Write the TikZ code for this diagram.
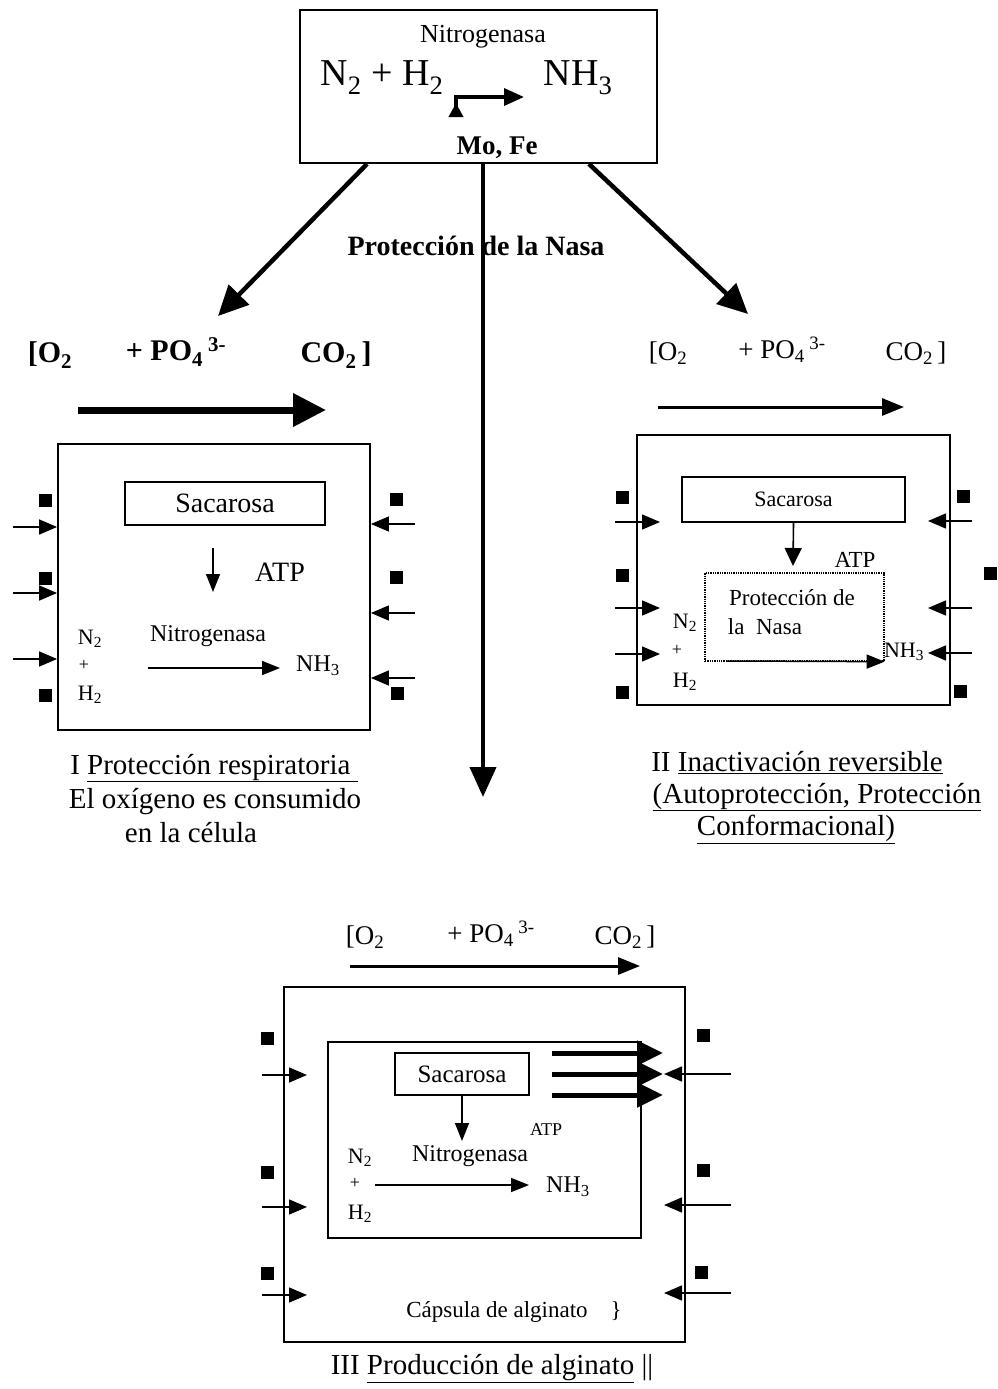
\documentclass[tikz,border=0pt]{standalone}
\usepackage{fontspec}
\setmainfont{Liberation Serif}
\usetikzlibrary{arrows.meta,calc}
\begin{document}
\begin{tikzpicture}[x=1pt,y=-1pt,
  tx/.style={inner sep=0pt, font=\fontsize{#1}{#1}\selectfont},
  bx/.style={inner sep=0pt, font=\bfseries\fontsize{#1}{#1}\selectfont},
  frame/.style={draw, line width=1.8pt, inner sep=0pt},
  sq/.style={fill=black, inner sep=0pt, minimum size=13pt},
  sarr/.style={-{Triangle[length=18pt,width=15pt]}, line width=1.5pt},
  iarr/.style={-{Triangle[length=18pt,width=14pt]}, line width=1.5pt},
  bigarr/.style={-{Triangle[length=30pt,width=28pt]}, line width=4.5pt},
  medarr/.style={-{Triangle[length=22pt,width=17pt]}, line width=3pt},
  thickarr/.style={-{Triangle[length=33pt,width=32pt]}, line width=7pt},
  alarr/.style={-{Triangle[length=26pt,width=24pt]}, line width=5pt}
]
\useasboundingbox (0,0) rectangle (998,1389);
\fill[white] (0,0) rectangle (998,1389);

% ---------- top box ----------
\node[frame, minimum width=357pt, minimum height=153pt] (top) at (478.5,86.5) {};
\node[tx=26] (tnit) at (483,37) {Nitrogenasa};
\node[tx=38] (treac) at (382,78) {N\textsubscript{2} + H\textsubscript{2}};
\node[tx=38] (tprod) at (578,78) {NH\textsubscript{3}};
\node[bx=27] (tmo) at (497,148) {Mo, Fe};
\coordinate (bentA) at (456,117);
\coordinate (bentB) at (456,97);
\coordinate (bentC) at (524,97);
\draw[{Triangle[reversed,length=14pt,width=14pt]}-{Triangle[length=20pt,width=17pt]}, line width=3.5pt]
  (bentA) -- (bentB) -- (bentC);

% ---------- central connectors ----------
\node[bx=28] (prot) at (476,246) {Protección de la Nasa};
\coordinate (aI) at (218,316);
\coordinate (aII) at (748,314);
\coordinate (aIII) at (483,797);
\draw[bigarr] ($(top.south west)+(68,0)$) -- (aI);
\draw[bigarr] ($(top.south east)+(-69,0)$) -- (aII);
\draw[-{Triangle[length=30pt,width=26pt]}, line width=4pt] ($(top.south)+(4.5,0)$) -- (aIII);

% ---------- panel I ----------
\node[bx=30] (IO) at (50,355) {[O\textsubscript{2}};
\node[bx=30] (IP) at (176,352) {+ PO\textsubscript{4}\,\textsuperscript{3-}};
\node[bx=30] (IC) at (336,355) {CO\textsubscript{2}\,]};
\coordinate (Ia) at (78,410);
\coordinate (Ib) at (326,410);
\draw[thickarr] (Ia) -- (Ib);

\node[frame, minimum width=312pt, minimum height=286pt] (boxI) at (214,587) {};
\node[frame, minimum width=200pt, minimum height=43pt, tx=28] (sacI) at (225,503.5) {Sacarosa};
\coordinate (IatpE) at (213,592);
\draw[iarr] ($(sacI.south)+(-12,22)$) -- (IatpE);
\node[tx=28] (IATP) at (280,572) {ATP};
\node[tx=22] (IN) at (90,639) {N\textsubscript{2}};
\node[tx=18] (Iplus) at (84,665) {+};
\node[tx=22] (IH) at (90,695) {H\textsubscript{2}};
\node[tx=24] (Initro) at (208,636) {Nitrogenasa};
\node[tx=24] (INH) at (318,666) {NH\textsubscript{3}};
\coordinate (Inа) at (148,668);
\draw[iarr] (Inа) -- ($(INH.west)+(-16,2)$);

\node[sq] (Isl1) at (45,500) {};
\node[sq] (Isl2) at (45,578) {};
\node[sq] (Isl3) at (45,695) {};
\node[sq] (Isr1) at (396,499) {};
\node[sq] (Isr2) at (396,577) {};
\node[sq] (Isr3) at (397,693) {};
\coordinate (Il1) at (13,527);
\coordinate (Il2) at (13,593);
\coordinate (Il3) at (13,659);
\coordinate (Ir1) at (415,524);
\coordinate (Ir2) at (415,613);
\coordinate (Ir3) at (415,678);
\foreach \c in {Il1,Il2,Il3} \draw[sarr] (\c) -- (\c -| boxI.west);
\foreach \c in {Ir1,Ir2,Ir3} \draw[sarr] (\c) -- (\c -| boxI.east);

\node[tx=29] (Icap1) at (214,768) {I \underline{Protección respiratoria\ }};
\node[tx=29] (Icap2) at (215,802) {El oxígeno es consumido};
\node[tx=29] (Icap3) at (191,833) {en la célula};

% ---------- panel II ----------
\node[tx=27] (IIO) at (668,353) {[O\textsubscript{2}};
\node[tx=27] (IIP) at (782,350) {+ PO\textsubscript{4}\,\textsuperscript{3-}};
\node[tx=27] (IIC) at (916,353) {CO\textsubscript{2}\,]};
\coordinate (IIa) at (658,407);
\coordinate (IIb) at (904,407);
\draw[medarr] (IIa) -- (IIb);

\node[frame, minimum width=313pt, minimum height=270pt] (boxII) at (793.5,570) {};
\node[frame, minimum width=223pt, minimum height=45pt, tx=22] (sacII) at (793.5,499.5) {Sacarosa};
\coordinate (IIatpE) at (793,566);
\draw[-{Triangle[length=18pt,width=17pt]}, line width=1.6pt] (sacII.south) -- (IIatpE);
\node[tx=23] (IIATP) at (855,560) {ATP};
\node[draw, densely dotted, line width=1.3pt, minimum width=179pt, minimum height=88pt, inner sep=0pt] (dotII) at (794.5,617) {};
\node[tx=23] (IIpr1) at (792,598) {Protección de};
\node[tx=23] (IIpr2) at (765,627) {la\ \ Nasa};
\node[tx=22] (IIN) at (685,623) {N\textsubscript{2}};
\node[tx=18] (IIplus) at (677,650) {+};
\node[tx=22] (IIH) at (685,682) {H\textsubscript{2}};
\node[tx=22] (IINH) at (904,652) {NH\textsubscript{3}};
\coordinate (IIna) at (727,661);
\draw[iarr] (IIna) -- (dotII.south east);

\node[sq] (IIsl1) at (622,497) {};
\node[sq] (IIsl2) at (622,575) {};
\node[sq] (IIsl3) at (622,692) {};
\node[sq] (IIsr1) at (963,496) {};
\node[sq] (IIsr2) at (990,573) {};
\node[sq] (IIsr3) at (960,691) {};
\coordinate (IIl1) at (615,522);
\coordinate (IIl2) at (615,608);
\coordinate (IIl3) at (615,654);
\coordinate (IIr1) at (972,521);
\coordinate (IIr2) at (972,608);
\coordinate (IIr3) at (972,653);
\foreach \c in {IIl1,IIl2,IIl3} \draw[sarr] (\c) -- ++(45,0);
\foreach \c in {IIr1,IIr2,IIr3} \draw[sarr] (\c) -- ++(-44,0);

\node[tx=29] (IIcap1) at (797,763) {II \underline{Inactivación reversible}};
\node[tx=29] (IIcap2) at (817,797) {\underline{(Autoprotección, Protección}};
\node[tx=29] (IIcap3) at (796,829) {\underline{Conformacional)}};

% ---------- panel III ----------
\node[tx=27] (IIIO) at (365,937) {[O\textsubscript{2}};
\node[tx=27] (IIIP) at (491,934) {+ PO\textsubscript{4}\,\textsuperscript{3-}};
\node[tx=27] (IIIC) at (625,937) {CO\textsubscript{2}\,]};
\coordinate (IIIa) at (350,966);
\coordinate (IIIb) at (640,966);
\draw[medarr] (IIIa) -- (IIIb);

\node[frame, minimum width=401pt, minimum height=355pt] (boxIII) at (484.5,1164.5) {};
\node[frame, minimum width=313pt, minimum height=196pt] (inIII) at (484.5,1140) {};
\node[frame, minimum width=134pt, minimum height=42pt, tx=25] (sacIII) at (462,1074) {Sacarosa};
\coordinate (IIIatpE) at (462,1141);
\draw[iarr] (sacIII.south) -- (IIIatpE);
\node[tx=18] (IIIATP) at (546,1130) {ATP};
\node[tx=22] (IIIN) at (360,1158) {N\textsubscript{2}};
\node[tx=18] (IIIplus) at (355,1183) {+};
\node[tx=22] (IIIH) at (360,1214) {H\textsubscript{2}};
\node[tx=24] (IIInit) at (470,1156) {Nitrogenasa};
\node[tx=24] (IIINH) at (568,1187) {NH\textsubscript{3}};
\coordinate (IIIna) at (375,1185);
\draw[iarr] (IIIna) -- ++(154,0);

\coordinate (al1) at (552,1053);
\coordinate (al2) at (552,1074);
\coordinate (al3) at (552,1095);
\foreach \c in {al1,al2,al3} \draw[alarr] (\c) -- ++(111,0);

\node[sq] (IIIsl1) at (267,1038) {};
\node[sq] (IIIsl2) at (267,1172) {};
\node[sq] (IIIsl3) at (267,1273) {};
\node[sq] (IIIsr1) at (703,1035) {};
\node[sq] (IIIsr2) at (703,1170) {};
\node[sq] (IIIsr3) at (701,1272) {};
\coordinate (IIIl1) at (262,1075);
\coordinate (IIIl2) at (262,1207);
\coordinate (IIIl3) at (262,1295);
\coordinate (IIIr1) at (731,1074);
\coordinate (IIIr2) at (731,1205);
\coordinate (IIIr3) at (731,1293);
\foreach \c in {IIIl1,IIIl2,IIIl3} \draw[sarr] (\c) -- ++(45,0);
\foreach \c in {IIIr1,IIIr2,IIIr3} \draw[sarr] (\c) -- ++(-67,0);

\node[tx=23] (caps) at (514,1312) {Cápsula de alginato\quad\}};
\node[tx=29] (IIIcap) at (492,1369) {III \underline{Producción de alginato} ||};
\end{tikzpicture}
\end{document}
